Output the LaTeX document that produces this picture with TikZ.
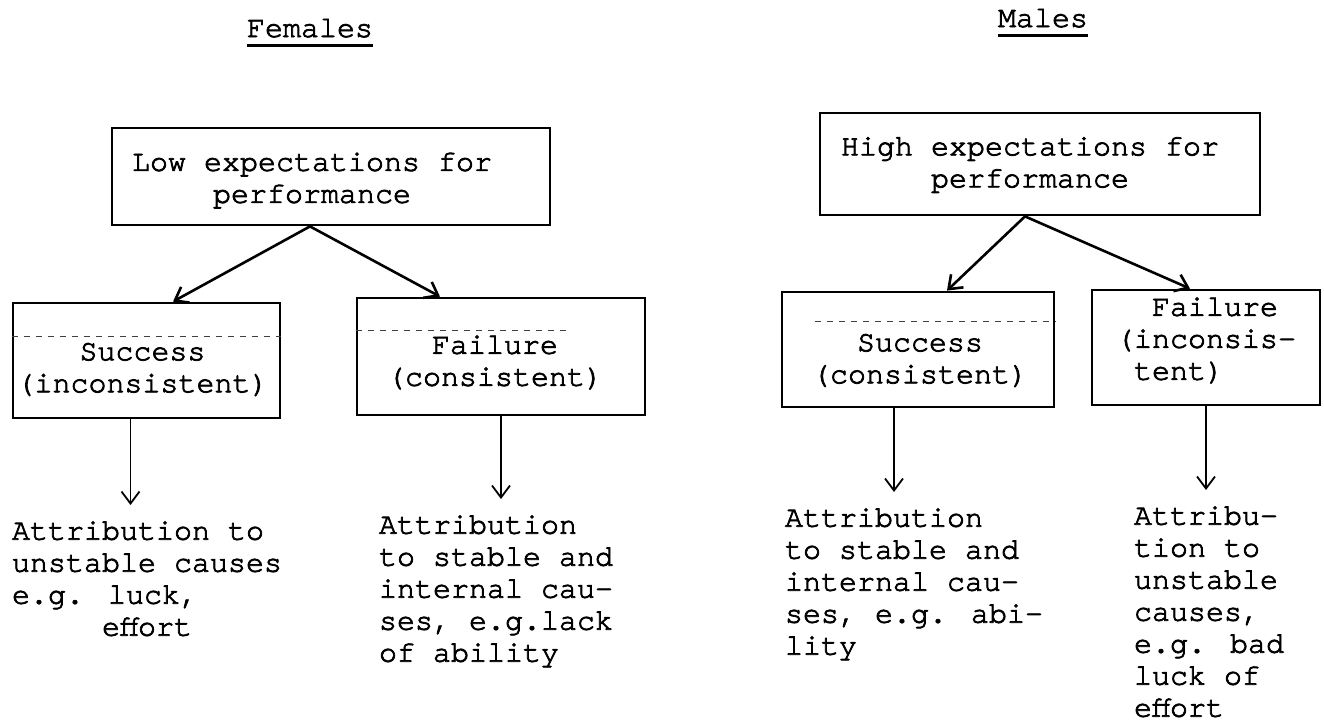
\documentclass[tikz,border=0pt]{standalone}
\usepackage{fontspec}
\usepackage{tikz}
\usetikzlibrary{arrows.meta,positioning,calc}
\newfontfamily\typefont[FakeBold=2.5]{TeX Gyre Cursor}

\begin{document}
\begin{tikzpicture}[
  x=0.5pt, y=-0.5pt,
  tw/.style={font=\typefont\fontsize{15}{16}\selectfont},
  title/.style={tw, anchor=base, inner xsep=0pt, inner ysep=4pt},
  uline/.style={line width=1.4pt},
  box/.style={draw, line width=1.4pt, inner sep=0pt},
  boxtext/.style={tw, align=center, inner sep=0pt},
  guide/.style={dashed, line width=0.7pt, black!75},
  attr/.style={tw, align=left, inner sep=0pt, execute at begin node=\strut},
  arr/.style={-{Straight Barb[length=6pt,width=9pt]}, line width=1.3pt},
  darr/.style={arr, line width=0.9pt, shorten >=8pt},
]
\useasboundingbox (0,0) rectangle (1324,724);

% Titles
\node[title] (ftitle) at (310,37) {Females};
\node[title] (mtitle) at (1043,27) {Males};
\draw[uline] (ftitle.south west) -- (ftitle.south east);
\draw[uline] (mtitle.south west) -- (mtitle.south east);

% Expectations
\node[box, minimum width=219pt, minimum height=48.5pt] (low) at (331,176.5) {};
\node[boxtext] (lowtext) at ($(low.center)+(-19,4)$) {Low expectations for\\performance};
\node[box, minimum width=220pt, minimum height=51pt] (high) at (1040,164) {};
\node[boxtext] (hightext) at ($(high.center)+(-10,1)$) {High expectations for\\performance};

% Outcomes
\node[box, minimum width=133.5pt, minimum height=57.5pt] (fsucc) at (146.5,360.5) {};
\node[boxtext] (fsucctext) at ($(fsucc.center)+(-4,9)$) {Success\\(inconsistent)};
\node[box, minimum width=144pt, minimum height=58.5pt] (ffail) at (501,356.5) {};
\node[boxtext] (ffailtext) at ($(ffail.center)+(-6,6)$) {Failure\\(consistent)};
\node[box, minimum width=136pt, minimum height=57.5pt] (msucc) at (918,349.5) {};
\node[boxtext] (msucctext) at ($(msucc.center)+(2,11)$) {Success\\(consistent)};
\node[box, minimum width=114pt, minimum height=57.5pt] (mfail) at (1206,347.5) {};
\node[boxtext, align=left] (mfailtext) at ($(mfail.center)+(0,-7)$)
  {\hphantom{xx}Failure\\(inconsis-\\\hphantom{x}tent)};

% dotted marks in the boxes
\draw[guide] ([yshift=-17.5pt]fsucc.north west) -- ([yshift=-17.5pt]fsucc.north east);
\draw[guide] ([yshift=-17pt]ffail.north west) -- ([xshift=-38pt,yshift=-17pt]ffail.north east);
\draw[guide] ([xshift=17pt,yshift=-15.5pt]msucc.north west) -- ([yshift=-15.5pt]msucc.north east);

% Attributions
\node[attr, below right=50.8pt and 0pt of fsucc.south west] (ftxt)
  {Attribution to\\unstable causes\\e.g. luck,\\\hphantom{xxxxx}effort};
\node[attr, below right=49.3pt and 11.5pt of ffail.south west] (fftxt)
  {Attribution\\to stable and\\internal cau-\\ses, e.g.lack\\of ability};
\node[attr, below right=49.8pt and 2pt of msucc.south west] (mtxt)
  {Attribution\\to stable and\\internal cau-\\ses, e.g. abi-\\lity};
\node[attr, below right=49.8pt and 21.5pt of mfail.south west] (mftxt)
  {Attribu-\\tion to\\unstable\\causes,\\e.g. bad\\luck of\\effort};

% Arrows
\draw[arr] ($(low.south)+(-21,0)$) -- ($(fsucc.north)+(26.5,0)$);
\draw[arr] ($(low.south)+(-21,0)$) -- ($(ffail.north)+(-61,0)$);
\draw[arr] ($(high.south)+(-15,0)$) -- ($(msucc.north)+(29,0)$);
\draw[arr] ($(high.south)+(-15,0)$) -- ($(mfail.north)+(-16,0)$);
\draw[darr] ($(fsucc.south)+(-16,0)$) -- ($(fsucc.south |- ftxt.north)+(-16,0)$);
\draw[darr] (ffail.south) -- (ffail.south |- fftxt.north);
\draw[darr] ($(msucc.south)+(-24,0)$) -- ($(msucc.south |- mtxt.north)+(-24,0)$);
\draw[darr] (mfail.south) -- (mfail.south |- mftxt.north);

\end{tikzpicture}
\end{document}
